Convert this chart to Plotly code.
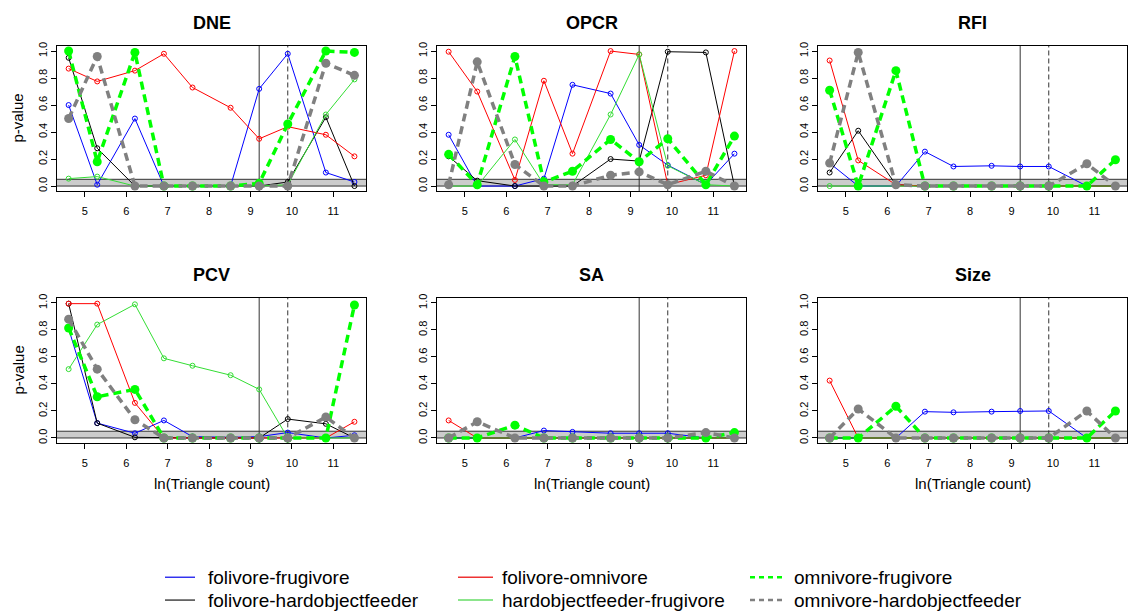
import plotly.graph_objects as go

W, H = 1134, 611

# x positions: ln(triangle count)
x_vals = [4.61, 5.30, 6.21, 6.91, 7.60, 8.52, 9.21, 9.90, 10.82, 11.51]
vline_solid = 9.21
vline_dashed = 9.90
sig_level = 0.05

panel_titles = ["DNE", "OPCR", "RFI", "PCV", "SA", "Size"]
series_names = ["folivore-frugivore", "folivore-hardobjectfeeder", "folivore-omnivore",
                "hardobjectfeeder-frugivore", "omnivore-frugivore", "omnivore-hardobjectfeeder"]

# ---- DNE ----
DNE_fol_fru = [0.60, 0.01, 0.50, 0.00, 0.00, 0.00, 0.72, 0.98, 0.10, 0.03]
DNE_fol_hof = [0.95, 0.28, 0.00, 0.00, 0.00, 0.00, 0.00, 0.03, 0.51, 0.00]
DNE_fol_omn = [0.87, 0.775, 0.855, 0.98, 0.73, 0.58, 0.35, 0.44, 0.38, 0.22]
DNE_hof_fru = [0.055, 0.07, 0.00, 0.00, 0.00, 0.00, 0.00, 0.01, 0.53, 0.79]
DNE_omn_fru = [1.00, 0.18, 0.99, 0.00, 0.00, 0.00, 0.02, 0.46, 1.00, 0.99]
DNE_omn_hof = [0.50, 0.96, 0.00, 0.00, 0.00, 0.00, 0.00, 0.00, 0.91, 0.82]

# ---- OPCR ----
OPCR_fol_fru = [0.38, 0.00, 0.00, 0.055, 0.75, 0.685, 0.305, 0.155, 0.01, 0.24]
OPCR_fol_hof = [0.22, 0.04, 0.00, 0.00, 0.00, 0.20, 0.185, 0.995, 0.99, 0.00]
OPCR_fol_omn = [0.995, 0.70, 0.045, 0.78, 0.24, 1.00, 0.975, 0.01, 0.08, 1.00]
OPCR_hof_fru = [0.00, 0.00, 0.345, 0.01, 0.01, 0.53, 0.975, 0.15, 0.01, 0.00]
OPCR_omn_fru = [0.235, 0.01, 0.96, 0.03, 0.11, 0.345, 0.18, 0.35, 0.01, 0.37]
OPCR_omn_hof = [0.01, 0.92, 0.16, 0.00, 0.00, 0.08, 0.105, 0.01, 0.11, 0.00]

# ---- RFI ----
RFI_fol_fru = [0.17, 0.00, 0.00, 0.255, 0.145, 0.15, 0.145, 0.145, 0.00, 0.00]
RFI_fol_hof = [0.10, 0.41, 0.01, 0.00, 0.00, 0.00, 0.00, 0.00, 0.00, 0.00]
RFI_fol_omn = [0.93, 0.19, 0.01, 0.00, 0.00, 0.00, 0.00, 0.00, 0.00, 0.00]
RFI_hof_fru = [0.00, 0.00, 0.00, 0.00, 0.00, 0.00, 0.00, 0.00, 0.00, 0.00]
RFI_omn_fru = [0.71, 0.00, 0.855, 0.00, 0.00, 0.00, 0.00, 0.00, 0.00, 0.195]
RFI_omn_hof = [0.17, 0.99, 0.01, 0.00, 0.00, 0.00, 0.00, 0.00, 0.165, 0.00]

# ---- PCV ----
PCV_fol_fru = [0.81, 0.11, 0.035, 0.13, 0.01, 0.005, 0.01, 0.04, 0.00, 0.02]
PCV_fol_hof = [0.995, 0.11, 0.005, 0.00, 0.00, 0.00, 0.00, 0.14, 0.105, 0.00]
PCV_fol_omn = [0.995, 0.995, 0.26, 0.00, 0.00, 0.00, 0.00, 0.00, 0.00, 0.12]
PCV_hof_fru = [0.51, 0.84, 0.99, 0.59, 0.535, 0.465, 0.36, 0.00, 0.00, 0.00]
PCV_omn_fru = [0.815, 0.305, 0.36, 0.00, 0.00, 0.00, 0.00, 0.00, 0.00, 0.985]
PCV_omn_hof = [0.88, 0.51, 0.135, 0.00, 0.00, 0.00, 0.00, 0.00, 0.155, 0.00]

# ---- SA ----
SA_fol_fru = [0.00, 0.00, 0.00, 0.055, 0.045, 0.035, 0.035, 0.035, 0.00, 0.005]
SA_fol_hof = [0.00, 0.00, 0.00, 0.00, 0.00, 0.00, 0.00, 0.00, 0.00, 0.00]
SA_fol_omn = [0.13, 0.00, 0.00, 0.00, 0.00, 0.00, 0.00, 0.00, 0.00, 0.00]
SA_hof_fru = [0.00, 0.00, 0.00, 0.00, 0.00, 0.00, 0.00, 0.00, 0.00, 0.00]
SA_omn_fru = [0.00, 0.00, 0.095, 0.00, 0.00, 0.00, 0.00, 0.00, 0.00, 0.04]
SA_omn_hof = [0.00, 0.12, 0.00, 0.00, 0.00, 0.00, 0.00, 0.00, 0.04, 0.00]

# ---- Size ----
Size_fol_fru = [0.00, 0.00, 0.00, 0.195, 0.19, 0.195, 0.20, 0.20, 0.00, 0.00]
Size_fol_hof = [0.00, 0.00, 0.00, 0.00, 0.00, 0.00, 0.00, 0.00, 0.00, 0.00]
Size_fol_omn = [0.425, 0.00, 0.00, 0.00, 0.00, 0.00, 0.00, 0.00, 0.00, 0.00]
Size_hof_fru = [0.00, 0.00, 0.00, 0.00, 0.00, 0.00, 0.00, 0.00, 0.00, 0.00]
Size_omn_fru = [0.00, 0.00, 0.235, 0.00, 0.00, 0.00, 0.00, 0.00, 0.00, 0.20]
Size_omn_hof = [0.00, 0.215, 0.00, 0.00, 0.00, 0.00, 0.00, 0.00, 0.20, 0.00]

y_ticks = [0.0, 0.2, 0.4, 0.6, 0.8, 1.0]
y_tick_labels = ["0.0", "0.2", "0.4", "0.6", "0.8", "1.0"]
x_ticks = [5, 6, 7, 8, 9, 10, 11]
x_tick_labels = ["5", "6", "7", "8", "9", "10", "11"]

panels = [
    [DNE_fol_fru, DNE_fol_hof, DNE_fol_omn, DNE_hof_fru, DNE_omn_fru, DNE_omn_hof],
    [OPCR_fol_fru, OPCR_fol_hof, OPCR_fol_omn, OPCR_hof_fru, OPCR_omn_fru, OPCR_omn_hof],
    [RFI_fol_fru, RFI_fol_hof, RFI_fol_omn, RFI_hof_fru, RFI_omn_fru, RFI_omn_hof],
    [PCV_fol_fru, PCV_fol_hof, PCV_fol_omn, PCV_hof_fru, PCV_omn_fru, PCV_omn_hof],
    [SA_fol_fru, SA_fol_hof, SA_fol_omn, SA_hof_fru, SA_omn_fru, SA_omn_hof],
    [Size_fol_fru, Size_fol_hof, Size_fol_omn, Size_hof_fru, Size_omn_fru, Size_omn_hof],
]

# styles
colors = ["#0000ff", "#000000", "#ff0000", "#33dd33", "#00ff00", "#808080"]
legend_colors = ["#3333ee", "#444444", "#ee3333", "#66dd66", "#00ff00", "#808080"]
thick = [False, False, False, False, True, True]

FONT = "Liberation Sans, Arial, sans-serif"

# layout geometry (pixels)
col_left = [57, 437, 818]
col_right = [366, 746, 1127]
row_top = [42, 296]
row_bottom = [189, 443]

fig = go.Figure()
shapes = []
annotations = []

for p in range(6):
    r, c = divmod(p, 3)
    idx = p + 1
    xa = "xaxis" if idx == 1 else f"xaxis{idx}"
    ya = "yaxis" if idx == 1 else f"yaxis{idx}"
    xr = "x" if idx == 1 else f"x{idx}"
    yr = "y" if idx == 1 else f"y{idx}"

    # band + reference lines
    shapes.append(dict(type="rect", xref=f"{xr} domain", yref=yr, x0=0, x1=1, y0=0, y1=sig_level,
                       fillcolor="#cccccc", line=dict(width=0), layer="below"))
    for yv in (0, sig_level):
        shapes.append(dict(type="line", xref=f"{xr} domain", yref=yr, x0=0, x1=1, y0=yv, y1=yv,
                           line=dict(color="#333333", width=1), layer="below"))
    shapes.append(dict(type="line", xref=xr, yref=f"{yr} domain", x0=vline_solid, x1=vline_solid,
                       y0=0, y1=1, line=dict(color="#333333", width=1), layer="below"))
    shapes.append(dict(type="line", xref=xr, yref=f"{yr} domain", x0=vline_dashed, x1=vline_dashed,
                       y0=0, y1=1, line=dict(color="#333333", width=1, dash="5px,3px"), layer="below"))

    for s in range(6):
        if thick[s]:
            line = dict(color=colors[s], width=3.5, dash="8px,5px")
            marker = dict(symbol="circle", size=9, color=colors[s])
        else:
            line = dict(color=colors[s], width=1)
            marker = dict(symbol="circle-open", size=5, color=colors[s], line=dict(width=1))
        fig.add_trace(go.Scatter(x=x_vals, y=panels[p][s], mode="lines+markers", line=line,
                                 marker=marker, name=series_names[s], showlegend=False,
                                 xaxis=xr, yaxis=yr, hoverinfo="skip"))

    fig.layout[xa] = dict(domain=[col_left[c] / W, col_right[c] / W], anchor=yr,
                          range=[4.329, 11.789], tickvals=x_ticks, ticktext=x_tick_labels,
                          ticks="outside", ticklen=5, tickcolor="#000", showline=True, mirror=True,
                          linecolor="#000", linewidth=1, showgrid=False, zeroline=False,
                          tickfont=dict(size=11, color="#000", family=FONT), ticklabelstandoff=4)
    fig.layout[ya] = dict(domain=[1 - row_bottom[r] / H, 1 - row_top[r] / H], anchor=xr,
                          range=[-0.04, 1.04], tickvals=y_ticks, ticktext=y_tick_labels,
                          ticks="outside", ticklen=5, tickcolor="#000", showline=True, mirror=True,
                          linecolor="#000", linewidth=1, showgrid=False, zeroline=False,
                          tickangle=-90, tickfont=dict(size=11, color="#000", family=FONT))

    cx = (col_left[c] + col_right[c]) / 2 / W
    annotations.append(dict(text=f"<b>{panel_titles[p]}</b>", x=cx, y=1 - (row_top[r] - 23) / H,
                            xref="paper", yref="paper", showarrow=False, xanchor="center",
                            yanchor="middle", font=dict(size=18, color="#000", family=FONT)))
    if c == 0:
        annotations.append(dict(text="p-value", x=18 / W, y=1 - (row_top[r] + row_bottom[r]) / 2 / H,
                                xref="paper", yref="paper", showarrow=False, textangle=-90,
                                xanchor="center", yanchor="middle",
                                font=dict(size=15, color="#000", family=FONT)))
    if r == 1:
        annotations.append(dict(text="ln(Triangle count)", x=cx, y=1 - 483 / H,
                                xref="paper", yref="paper", showarrow=False,
                                xanchor="center", yanchor="middle",
                                font=dict(size=15, color="#000", family=FONT)))

# manual legend (column-major, 3 columns x 2 rows)
leg_line_x = [(165, 195), (458, 493), (750, 785)]
leg_text_x = [206, 500, 792]
leg_row_y = [578, 601]
for s in range(6):
    col, row = divmod(s, 2)
    x0, x1 = leg_line_x[col]
    yy = 1 - leg_row_y[row] / H
    if thick[s]:
        ln = dict(color=legend_colors[s], width=2.5, dash="5px,4px")
    else:
        ln = dict(color=legend_colors[s], width=1.5)
    shapes.append(dict(type="line", xref="paper", yref="paper", x0=x0 / W, x1=x1 / W,
                       y0=yy, y1=yy, line=ln))
    annotations.append(dict(text=series_names[s], x=leg_text_x[col] / W, y=yy, xref="paper",
                            yref="paper", showarrow=False, xanchor="left", yanchor="middle",
                            font=dict(size=19, color="#000", family=FONT)))

fig.update_layout(width=W, height=H, margin=dict(l=0, r=0, t=0, b=0),
                  paper_bgcolor="white", plot_bgcolor="white", shapes=shapes,
                  annotations=annotations, showlegend=False)

fig.write_html("out.html")
